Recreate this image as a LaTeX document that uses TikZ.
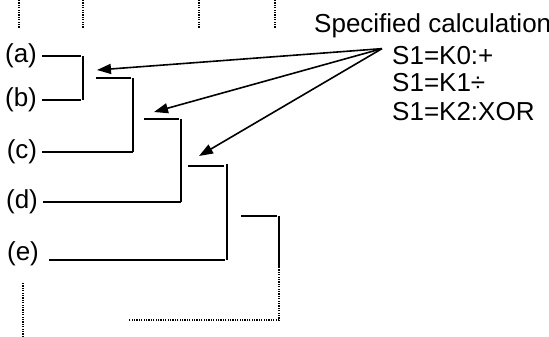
\documentclass[tikz,border=0pt]{standalone}
\usepackage{fontspec}
\setmainfont{Liberation Sans}
\usetikzlibrary{arrows.meta,positioning}

\begin{document}
\begin{tikzpicture}[x=1pt,y=-1pt,
  every node/.style={font=\fontsize{26}{28}\selectfont, inner sep=0pt},
  wire/.style={line width=1.6pt},
  guide/.style={line width=1.2pt, dash pattern=on 1.2pt off 1.2pt},
  pointer/.style={line width=1.6pt, -{Triangle[length=14pt,width=10pt]}}]

\useasboundingbox (0,0) rectangle (549,337);
\clip (0,0) rectangle (549,337);

% Dotted guides at the top
\foreach \gx in {19,83,199,275}
  \draw[guide] (\gx,0) -- (\gx,28);

% Input labels
\node (a) at (21,56) {(a)};
\node (b) at (21,100) {(b)};
\node (c) at (22,152) {(c)};
\node (d) at (22,202) {(d)};
\node (e) at (23,254) {(e)};

% First stage: (a) and (b)
\draw[wire] ([xshift=5pt]a.east |- 0,56) -- (81,56);
\draw[wire] (83,56) coordinate (s1top) -- (83,100) coordinate (s1bot);
\draw[wire] ([xshift=5pt]b.east |- 0,100) -- (81,100);

% Second stage: result and (c)
\draw[wire] (96,78) coordinate (r1) -- (131,78);
\draw[wire] (133,78) -- (133,152) coordinate (s2bot);
\draw[wire] ([xshift=5pt]c.east |- 0,152) -- (s2bot);

% Third stage: result and (d)
\draw[wire] (144,119) coordinate (r2) -- (179,119);
\draw[wire] (181,119) -- (181,202) coordinate (s3bot);
\draw[wire] ([xshift=5pt]d.east |- 0,202) -- (s3bot);

% Fourth stage: result and (e)
\draw[wire] (188,166) coordinate (r3) -- (224,166);
\draw[wire] (227,164) -- (227,260) coordinate (s4bot);
\draw[wire] ([xshift=10pt]e.east |- 0,260) -- (225,260);

% Fifth stage, continued
\draw[wire] (241,216) -- (277,216);
\draw[wire] (279,216) -- (279,267) coordinate (s5mid);
\draw[guide] (s5mid) -- (279,320) -- (129,320);
\draw[guide] (23,283) -- (23,337);

% Calculation text
\node[anchor=base west] (title) at (314,33) {Specified calculation};
\node[anchor=base west] (op1) at (392,65) {S1=K0:+};
\node[anchor=base west] (op2) at (392,92) {S1=K1÷};
\node[anchor=base west] (op3) at (392,120) {S1=K2:XOR};

% Pointers to the stages
\coordinate (src) at ([xshift=-10pt,yshift=-2pt]op1.north west);
\draw[pointer] (src) -- (97,70);
\draw[pointer] (src) -- (154,112);
\draw[pointer] (src) -- (199,156);

\end{tikzpicture}
\end{document}
